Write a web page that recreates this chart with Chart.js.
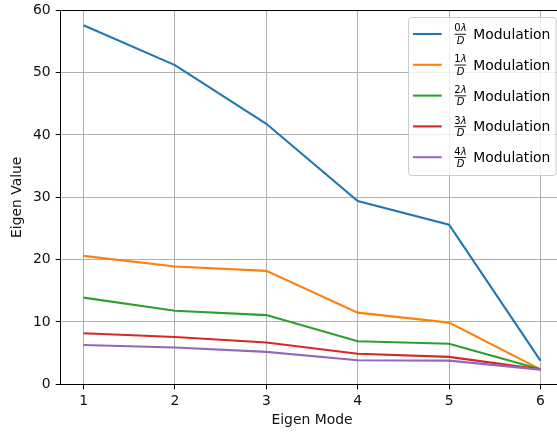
<!DOCTYPE html>
<html>
<head>
<meta charset="utf-8">
<script src="https://cdn.jsdelivr.net/npm/chart.js@4/dist/chart.umd.min.js"></script>
<style>
  html, body { margin: 0; padding: 0; background: #fff; overflow: hidden; }
  #wrap { width: 557px; height: 433px; overflow: hidden; }
  canvas { display: block; }
</style>
</head>
<body>
<div id="wrap"><canvas id="c" width="570" height="433"></canvas></div>
<script>
// Eigen values per mode for each modulation order (k·λ/D)
const modes = [1, 2, 3, 4, 5, 6];
const mod0 = [57.6, 51.2, 41.8, 29.4, 25.6, 3.8];
const mod1 = [20.6, 18.9, 18.2, 11.5, 9.9, 2.4];
const mod2 = [13.9, 11.8, 11.1, 6.9, 6.5, 2.4];
const mod3 = [8.2, 7.6, 6.7, 4.9, 4.4, 2.4];
const mod4 = [6.3, 5.9, 5.2, 3.85, 3.8, 2.35];
const orders = ['0', '1', '2', '3', '4'];
const yTicks = [0, 10, 20, 30, 40, 50, 60];

const series = [mod0, mod1, mod2, mod3, mod4];
const colors = ['#1f77b4', '#ff7f0e', '#2ca02c', '#d62728', '#9467bd'];
const FONT = "'DejaVu Sans', sans-serif";
const FS = 13.9;

const datasets = series.map((vals, i) => ({
  label: orders[i] + 'λ/D Modulation',
  data: modes.map((m, j) => ({ x: m, y: vals[j] })),
  borderColor: colors[i],
  backgroundColor: colors[i],
  borderWidth: 2.1,
  pointRadius: 0,
  tension: 0,
  fill: false,
  order: series.length - 1 - i
}));

// Top and right spines (Chart.js only draws the axis-side borders)
const frame = {
  id: 'frame',
  afterDatasetsDraw(chart) {
    const { ctx, chartArea: a } = chart;
    ctx.save();
    ctx.strokeStyle = '#000';
    ctx.lineWidth = 1;
    ctx.beginPath();
    ctx.moveTo(Math.round(a.left) + 0.5, Math.round(a.top) + 0.5);
    ctx.lineTo(Math.round(a.right) + 0.5, Math.round(a.top) + 0.5);
    ctx.lineTo(Math.round(a.right) + 0.5, Math.round(a.bottom) + 0.5);
    ctx.stroke();
    ctx.restore();
  }
};

// Legend with stacked fraction labels: (k λ)/D Modulation
const fracLegend = {
  id: 'fracLegend',
  afterDraw(chart) {
    const { ctx } = chart;
    const bx = 408.5, by = 17.5, bw = 147.5, bh = 158, r = 3;
    ctx.save();
    ctx.beginPath();
    ctx.moveTo(bx + r, by);
    ctx.lineTo(bx + bw - r, by);
    ctx.arcTo(bx + bw, by, bx + bw, by + r, r);
    ctx.lineTo(bx + bw, by + bh - r);
    ctx.arcTo(bx + bw, by + bh, bx + bw - r, by + bh, r);
    ctx.lineTo(bx + r, by + bh);
    ctx.arcTo(bx, by + bh, bx, by + bh - r, r);
    ctx.lineTo(bx, by + r);
    ctx.arcTo(bx, by, bx + r, by, r);
    ctx.closePath();
    ctx.fillStyle = 'rgba(255,255,255,0.8)';
    ctx.fill();
    ctx.strokeStyle = '#cccccc';
    ctx.lineWidth = 1;
    ctx.stroke();

    const small = 10;
    orders.forEach((k, i) => {
      const y = 34 + i * 30.8;
      // handle
      ctx.strokeStyle = colors[i];
      ctx.lineWidth = 2.1;
      ctx.beginPath();
      ctx.moveTo(413, y);
      ctx.lineTo(441.7, y);
      ctx.stroke();

      ctx.fillStyle = '#000';
      ctx.textBaseline = 'alphabetic';
      const cx = 460.5;
      // numerator: digit upright, lambda oblique
      ctx.font = small + 'px ' + FONT;
      const wd = ctx.measureText(k).width;
      ctx.font = 'italic ' + small + 'px ' + FONT;
      const wl = ctx.measureText('λ').width;
      const nx = cx - (wd + wl) / 2;
      ctx.font = small + 'px ' + FONT;
      ctx.textAlign = 'left';
      ctx.fillText(k, nx, y - 2.6);
      ctx.font = 'italic ' + small + 'px ' + FONT;
      ctx.fillText('λ', nx + wd, y - 2.6);
      // fraction bar
      ctx.fillRect(454.5, y - 0.2, 11.5, 0.9);
      // denominator
      ctx.textAlign = 'center';
      ctx.fillText('D', cx, y + 9.8);
      // text
      ctx.font = FS + 'px ' + FONT;
      ctx.textAlign = 'left';
      ctx.fillText('Modulation', 473.3, y + 5);
    });
    ctx.restore();
  }
};

new Chart(document.getElementById('c'), {
  type: 'line',
  data: { datasets },
  options: {
    responsive: false,
    animation: false,
    devicePixelRatio: 1,
    layout: { padding: { top: 10.3, right: 6.7, left: 0, bottom: 0 } },
    plugins: { legend: { display: false }, tooltip: { enabled: false } },
    scales: {
      x: {
        type: 'linear',
        min: 0.75,
        max: 6.25,
        afterBuildTicks(scale) { scale.ticks = modes.map(v => ({ value: v })); },
        afterFit(scale) {
          scale.height = 48.7;
          scale.paddingLeft = 0; scale.paddingRight = 0;
        },
        grid: { color: '#b0b0b0', lineWidth: 1, drawTicks: true, tickLength: 5, tickColor: '#000', tickWidth: 1 },
        border: { display: true, color: '#000', width: 1 },
        ticks: { color: '#111', padding: 4, maxRotation: 0, font: { family: FONT, size: FS } },
        title: { display: true, text: 'Eigen Mode', color: '#111', padding: { top: 0, bottom: 4 }, font: { family: FONT, size: FS } }
      },
      y: {
        type: 'linear',
        min: 0,
        max: 60,
        afterBuildTicks(scale) { scale.ticks = yTicks.map(v => ({ value: v })); },
        afterFit(scale) {
          scale.width = 60.7;
          scale.paddingTop = 0; scale.paddingBottom = 0;
        },
        grid: { color: '#b0b0b0', lineWidth: 1, drawTicks: true, tickLength: 5, tickColor: '#000', tickWidth: 1 },
        border: { display: true, color: '#000', width: 1 },
        ticks: { color: '#111', padding: 5, font: { family: FONT, size: FS } },
        title: { display: true, text: 'Eigen Value', color: '#111', padding: { top: 9.2, bottom: 0 }, font: { family: FONT, size: FS } }
      }
    }
  },
  plugins: [frame, fracLegend]
});
</script>
</body>
</html>
